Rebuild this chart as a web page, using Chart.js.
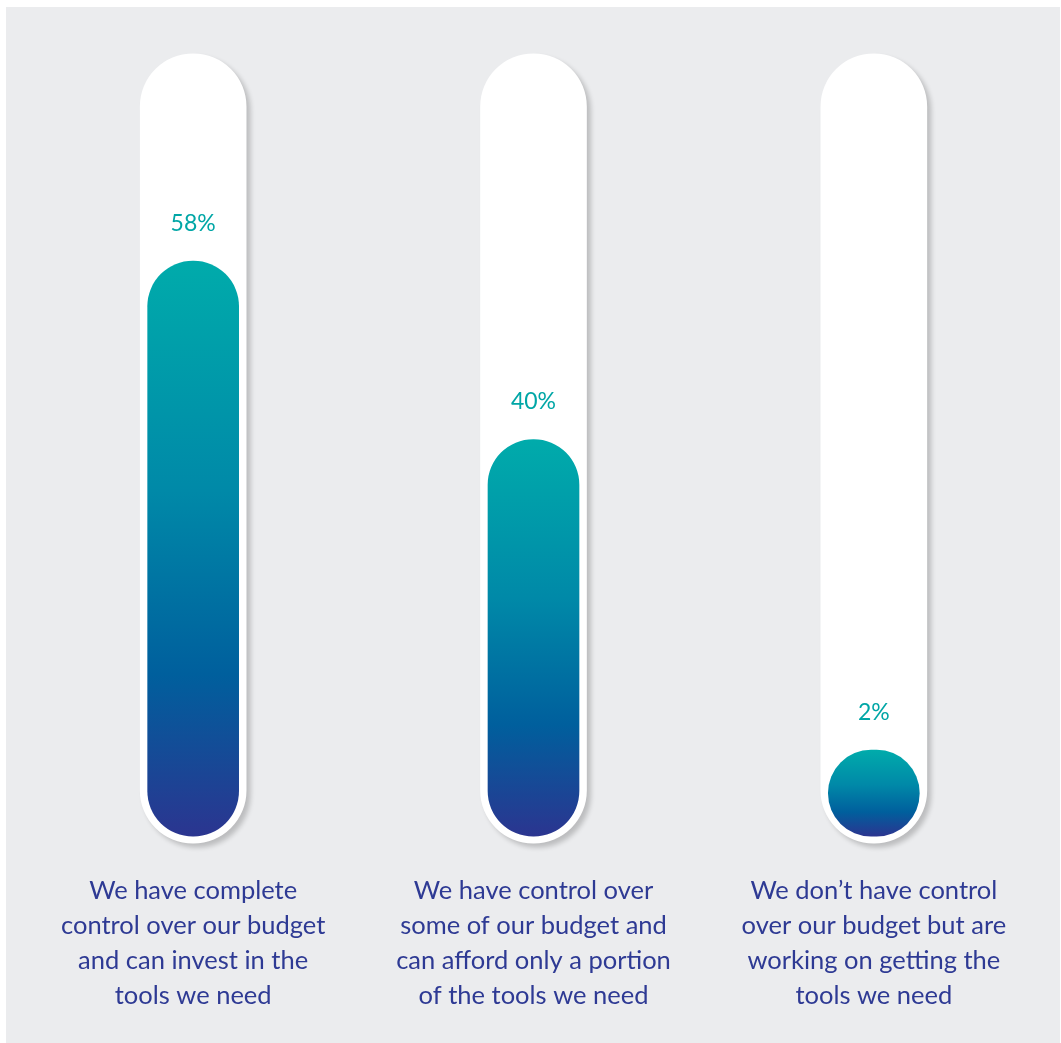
<!DOCTYPE html>
<html>
<head>
<meta charset="utf-8">
<script src="https://cdn.jsdelivr.net/npm/chart.js@4/dist/chart.umd.min.js"></script>
<style>
  html, body { margin: 0; padding: 0; background: #fff; }
  #wrap { width: 1061px; height: 1043px; position: relative; }
</style>
</head>
<body>
<div id="wrap"><canvas id="myChart"></canvas></div>
<script>
// chart data
var categories = [
  ["We have complete", "control over our budget", "and can invest in the", "tools we need"],
  ["We have control over", "some of our budget and", "can afford only a portion", "of the tools we need"],
  ["We don\u2019t have control", "over our budget but are", "working on getting the", "tools we need"]
];
var shares = [58, 40, 2];
var trackRange = [-0.7, 78.9]; // white tube behind every bar

var MIN_BAR = 86;

function barGradient(c) {
  var chart = c.chart;
  var y = chart.scales.y;
  if (!y || c.raw == null) return "#0085a8";
  var base = y.getPixelForValue(0);
  var top = y.getPixelForValue(c.raw);
  if (!isFinite(base) || !isFinite(top)) return "#0085a8";
  if (base - top < MIN_BAR) top = base - MIN_BAR;
  var g = chart.ctx.createLinearGradient(0, top, 0, base);
  g.addColorStop(0, "#00abab");
  g.addColorStop(0.4, "#0089a8");
  g.addColorStop(0.72, "#005f9d");
  g.addColorStop(1, "#2b3590");
  return g;
}

var bgPlugin = {
  id: "bg",
  beforeDraw: function(chart) {
    var ctx = chart.ctx;
    ctx.save();
    ctx.fillStyle = "#ffffff";
    ctx.fillRect(0, 0, chart.width, chart.height);
    ctx.fillStyle = "#ebecee";
    ctx.fillRect(6, 7, chart.width - 7, chart.height - 7);
    ctx.restore();
  }
};

var shadowPlugin = {
  id: "tubeShadow",
  beforeDatasetDraw: function(chart, args) {
    if (args.index !== 0) return;
    var ctx = chart.ctx;
    ctx.save();
    ctx.shadowColor = "rgba(0,0,0,0.2)";
    ctx.shadowBlur = 5;
    ctx.shadowOffsetX = 4;
    ctx.shadowOffsetY = 4;
  },
  afterDatasetDraw: function(chart, args) {
    if (args.index !== 0) return;
    chart.ctx.restore();
  }
};

var valueLabels = {
  id: "valueLabels",
  afterDatasetsDraw: function(chart) {
    var ctx = chart.ctx;
    var meta = chart.getDatasetMeta(1);
    ctx.save();
    ctx.fillStyle = "#00a6a6";
    ctx.font = "23px Lato";
    ctx.textAlign = "center";
    ctx.textBaseline = "middle";
    meta.data.forEach(function(el, i) {
      ctx.fillText(shares[i] + "%", el.x, el.y - 38);
    });
    ctx.restore();
  }
};

new Chart(document.getElementById("myChart"), {
  type: "bar",
  data: {
    labels: categories,
    datasets: [{
      data: categories.map(function() { return trackRange; }),
      backgroundColor: "#ffffff",
      barThickness: 106,
      borderRadius: 53,
      borderSkipped: false,
      grouped: false,
      clip: false,
      order: 2
    }, {
      data: shares,
      backgroundColor: barGradient,
      barThickness: 91,
      borderRadius: 46,
      borderSkipped: false,
      minBarLength: MIN_BAR,
      grouped: false,
      clip: false,
      order: 1
    }]
  },
  options: {
    responsive: true,
    maintainAspectRatio: false,
    animation: false,
    layout: { padding: { left: 23, right: 17, top: 43, bottom: 21 } },
    plugins: { legend: { display: false }, tooltip: { enabled: false } },
    scales: {
      x: {
        grid: { display: false },
        border: { display: false },
        ticks: {
          color: "#2e3a94",
          font: { family: "Lato", size: 25.5, lineHeight: "35px" },
          padding: 9,
          maxRotation: 0,
          autoSkip: false
        }
      },
      y: {
        display: false,
        min: -2,
        max: 80
      }
    }
  },
  plugins: [bgPlugin, shadowPlugin, valueLabels]
});
</script>
</body>
</html>
